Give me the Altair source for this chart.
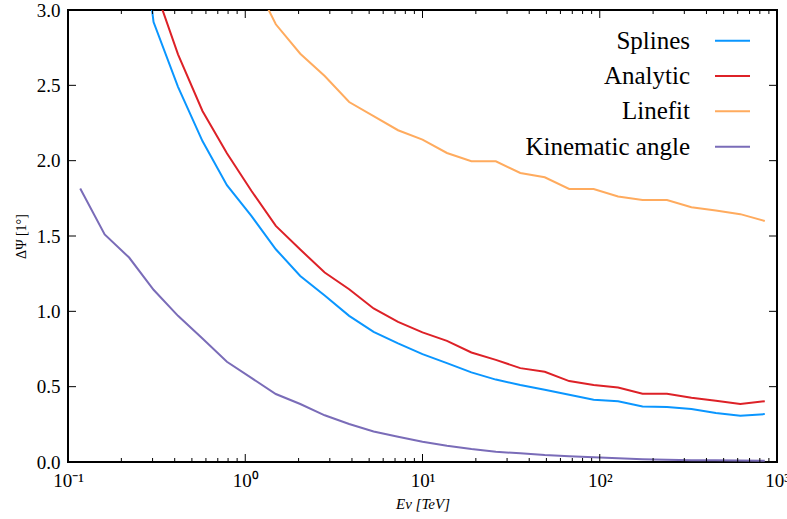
import altair as alt
import pandas as pd

# Energy bin centres [TeV]
energy = [0.1172, 0.1610, 0.2212, 0.3039, 0.4175, 0.5736, 0.7880, 1.0826, 1.4874,
          2.0434, 2.8072, 3.8566, 5.2983, 7.2790, 10.0, 13.738, 18.874, 25.929,
          35.622, 48.939, 67.234, 92.367, 126.90, 174.33, 239.50, 329.04, 452.04,
          621.02, 853.17]

splines = [None, None, 4.2, 2.92, 2.49, 2.13, 1.837, 1.633, 1.412, 1.235, 1.105, 0.97,
           0.864, 0.787, 0.716, 0.656, 0.595, 0.547, 0.511, 0.480, 0.446, 0.413,
           0.403, 0.369, 0.365, 0.351, 0.325, 0.307, 0.318]
analytic = [None, None, None, 3.17, 2.706, 2.33, 2.049, 1.80, 1.567, 1.41, 1.258, 1.147,
            1.019, 0.930, 0.860, 0.804, 0.727, 0.678, 0.623, 0.599, 0.537, 0.511,
            0.495, 0.453, 0.453, 0.426, 0.406, 0.385, 0.403]
linefit = [None, None, None, None, None, None, None, 3.23, 2.905, 2.71, 2.562, 2.389,
           2.296, 2.202, 2.140, 2.051, 1.996, 1.996, 1.918, 1.890, 1.812, 1.812,
           1.762, 1.739, 1.739, 1.691, 1.669, 1.645, 1.600]
kinematic = [1.815, 1.510, 1.357, 1.143, 0.970, 0.820, 0.665, 0.558, 0.451, 0.385,
             0.310, 0.252, 0.203, 0.168, 0.135, 0.108, 0.086, 0.068, 0.058, 0.046,
             0.038, 0.031, 0.025, 0.019, 0.015, 0.012, 0.011, 0.010, 0.009]

names = ["Splines", "Analytic", "Linefit", "Kinematic angle"]
colors = ["#0a96ff", "#dd2127", "#ffab5e", "#7a6cb8"]

x_major = [0.1, 1, 10, 100, 1000]
x_minor = [m * d for d in [0.1, 1, 10, 100] for m in range(2, 10)]
y_major = [0.0, 0.5, 1.0, 1.5, 2.0, 2.5, 3.0]
x_labels = ["10⁻¹", "10⁰", "10¹", "10²", "10³"]

rows = []
for name, vals in zip(names, [splines, analytic, linefit, kinematic]):
    for e, v in zip(energy, vals):
        if v is not None:
            rows.append({"E": e, "dpsi": v, "series": name})
df = pd.DataFrame(rows)

W, H = 709, 452
xscale = alt.Scale(type="log", domain=[0.1, 1000], nice=False)
yscale = alt.Scale(domain=[0, 3], nice=False, zero=False)
cscale = alt.Scale(domain=names, range=colors)

label_expr = "[" + ",".join("'%s'" % s for s in x_labels) + "][round(log(datum.value)/LN10)+1]"

lines = alt.Chart(df).mark_line(strokeWidth=2, clip=True).encode(
    x=alt.X("E:Q", scale=xscale,
            axis=alt.Axis(values=x_major, labelExpr=label_expr, ticks=False, domain=False,
                          grid=False, title="Eν [TeV]", labelFontSize=19, labelPadding=9,
                          titleFontSize=15, titleFontStyle="italic", titleFontWeight="normal",
                          titlePadding=6, labelFlush=False, labelOverlap=False,
                          orient="bottom")),
    y=alt.Y("dpsi:Q", scale=yscale,
            axis=alt.Axis(values=y_major, format=".1f", ticks=False, domain=False, grid=False,
                          title="ΔΨ [1°]", labelFontSize=19, labelPadding=8,
                          titleFontSize=14, titleFontWeight="normal", titlePadding=8,
                          labelFlush=False)),
    color=alt.Color("series:N", scale=cscale, legend=None),
    order=alt.Order("E:Q"),
)

xmaj_df = pd.DataFrame({"t": x_major})
xmin_df = pd.DataFrame({"t": x_minor})
ymaj_df = pd.DataFrame({"t": y_major})

def xticks(d, y0, y1):
    return alt.Chart(d).mark_rule(color="black", strokeWidth=1).encode(
        x=alt.X("t:Q", scale=xscale, axis=None), y=alt.value(y0), y2=alt.value(y1))

def yticks(x0, x1):
    return alt.Chart(ymaj_df).mark_rule(color="black", strokeWidth=1).encode(
        y=alt.Y("t:Q", scale=yscale, axis=None), x=alt.value(x0), x2=alt.value(x1))

tick_layers = [
    xticks(xmaj_df, H, H - 8), xticks(xmaj_df, 0, 8),
    xticks(xmin_df, H, H - 4), xticks(xmin_df, 0, 4),
    yticks(0, 8), yticks(W, W - 8),
]

leg_df = pd.DataFrame({"series": names})
leg_y = alt.Scale(type="point", domain=names, range=[30.7, 136.7], padding=0)
leg_text = alt.Chart(leg_df).mark_text(align="right", baseline="middle", fontSize=25,
                                       color="black").encode(
    x=alt.value(622), y=alt.Y("series:N", scale=leg_y, axis=None), text="series:N")
leg_line = alt.Chart(leg_df).mark_rule(strokeWidth=2).encode(
    x=alt.value(647), x2=alt.value(682),
    y=alt.Y("series:N", scale=leg_y, axis=None),
    color=alt.Color("series:N", scale=cscale, legend=None))

chart = alt.layer(lines, *tick_layers, leg_line, leg_text).resolve_scale(
    y="independent"
).resolve_axis(
    x="independent"
).properties(
    width=W, height=H,
    autosize=alt.AutoSizeParams(type="none"),
    padding={"left": 68, "top": 10, "right": 10, "bottom": 57},
).configure(
    font="Liberation Serif"
).configure_view(
    stroke="black", strokeWidth=2
).configure_axis(
    labelColor="black", titleColor="black"
)

chart.save("out.html", embed_options={"renderer": "svg", "actions": False})
